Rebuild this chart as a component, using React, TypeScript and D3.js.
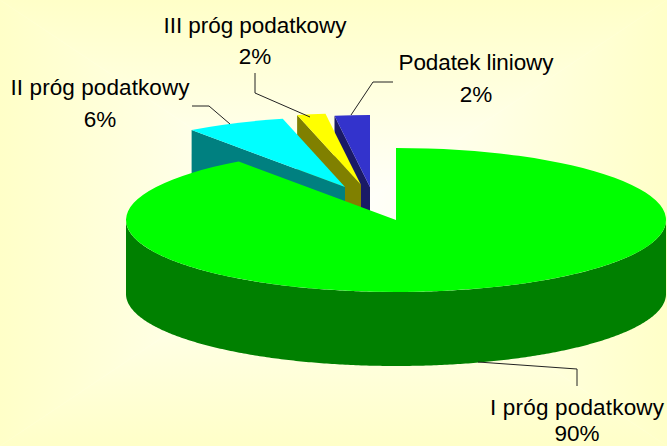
import React from "react";
import * as d3 from "d3";

const WIDTH = 667;
const HEIGHT = 446;

// values, the printed labels are rounded
const categories = ["I próg podatkowy", "II próg podatkowy", "III próg podatkowy", "Podatek liniowy"];
const shares = [90.1, 6.1, 1.7, 2.1];
const printedPercent = [90, 6, 2, 2];

const topColors = ["#00ff00", "#00ffff", "#ffff00", "#3333cc"];
const sideColors = ["#008000", "#008080", "#808000", "#1a1a66"];

// pie geometry
const cx = 396;
const cy = 220;
const rx = 270;
const ry = 72;
const depth = 74;

// how far each slice is pulled out of the pie, and the slight shrink of the perspective
const explode = [[0, 0], [-51, -33], [-35, -35], [-26, -33]];
const perspective = [1, 0.975, 1, 1];

const labels = [
  { x: 577, y: 415, width: 174, pctY: 441 },
  { x: 100, y: 95, width: 179, pctY: 127 },
  { x: 255, y: 33, width: 183, pctY: 64 },
  { x: 476, y: 70, width: 155, pctY: 102 },
];

const leaders = [
  [[478, 362], [577, 369], [577, 386]],
  [[192, 106], [209, 106], [230, 124]],
  [[255, 73], [255, 93], [310, 117]],
  [[393, 82], [373, 82], [351, 115]],
];

const toPoint = (a: number): [number, number] => [rx * Math.sin(a), -ry * Math.cos(a)];

const Background = () => {
  const mid: [number, number] = [WIDTH / 2, HEIGHT / 2];
  const tris = [
    { id: "bgT", pts: [[0, 0], [WIDTH, 0], mid], v: [mid[0], 0, mid[0], mid[1]] },
    { id: "bgB", pts: [[0, HEIGHT], [WIDTH, HEIGHT], mid], v: [mid[0], HEIGHT, mid[0], mid[1]] },
    { id: "bgL", pts: [[0, 0], [0, HEIGHT], mid], v: [0, mid[1], mid[0], mid[1]] },
    { id: "bgR", pts: [[WIDTH, 0], [WIDTH, HEIGHT], mid], v: [WIDTH, mid[1], mid[0], mid[1]] },
  ];
  return (
    <g>
      <defs>
        {tris.map(t => (
          <linearGradient key={t.id} id={t.id} gradientUnits="userSpaceOnUse" x1={t.v[0]} y1={t.v[1]} x2={t.v[2]} y2={t.v[3]}>
            <stop offset="0" stopColor="#ffffc8" />
            <stop offset="1" stopColor="#ffffff" />
          </linearGradient>
        ))}
      </defs>
      {tris.map(t => (
        <polygon key={t.id} points={t.pts.join(" ")} fill={`url(#${t.id})`} stroke={`url(#${t.id})`} strokeWidth={0.5} />
      ))}
    </g>
  );
};

const Slice = ({ d, index }: { d: d3.PieArcDatum<number>; index: number }) => {
  const [ox, oy] = explode[index];
  const arc = d3.arc<d3.PieArcDatum<number>>().innerRadius(0).outerRadius(rx);

  // rim of the pie, only the part facing the viewer
  const from = Math.max(d.startAngle, Math.PI / 2);
  const to = Math.min(d.endAngle, (3 * Math.PI) / 2);
  const rim = d3
    .area<number>()
    .x(a => toPoint(a)[0])
    .y0(a => toPoint(a)[1])
    .y1(a => toPoint(a)[1] + depth);
  const rimPath = to > from ? rim(d3.range(from, to, 0.01).concat(to)) : null;

  // cut face along the slice's left edge
  const [ex, ey] = toPoint(d.startAngle);
  const wall = `M0,0L${ex},${ey}L${ex},${ey + depth}L0,${depth}Z`;

  return (
    <g transform={`translate(${cx + ox} ${cy + oy}) scale(${perspective[index]})`}>
      {index > 0 && <path d={wall} fill={sideColors[index]} />}
      {rimPath && <path d={rimPath} fill={sideColors[index]} />}
      <path d={arc(d) as string} transform={`scale(1 ${ry / rx})`} fill={topColors[index]} />
    </g>
  );
};

const App = () => {
  const slices = d3.pie<number>().value(v => v).sort(null)(shares);
  const leaderLine = d3.line();

  return (
    <svg
      width={WIDTH}
      height={HEIGHT}
      style={{ position: "absolute", left: 0, top: 0 }}
      fontFamily="'Liberation Sans', Arial, sans-serif"
    >
      <Background />
      {/* painted back to front: the big slice comes last */}
      {[3, 2, 1, 0].map(i => (
        <Slice key={i} d={slices[i]} index={i} />
      ))}
      {leaders.map((pts, i) => (
        <path key={i} d={leaderLine(pts as [number, number][]) as string} fill="none" stroke="#222" strokeWidth={1} />
      ))}
      {labels.map((l, i) => (
        <g key={i} fontSize={22.5} fill="#000" textAnchor="middle">
          <text x={l.x} y={l.y} textLength={l.width} lengthAdjust="spacing">
            {categories[i]}
          </text>
          <text x={l.x} y={l.pctY}>{printedPercent[i]}%</text>
        </g>
      ))}
    </svg>
  );
};

export default App;
